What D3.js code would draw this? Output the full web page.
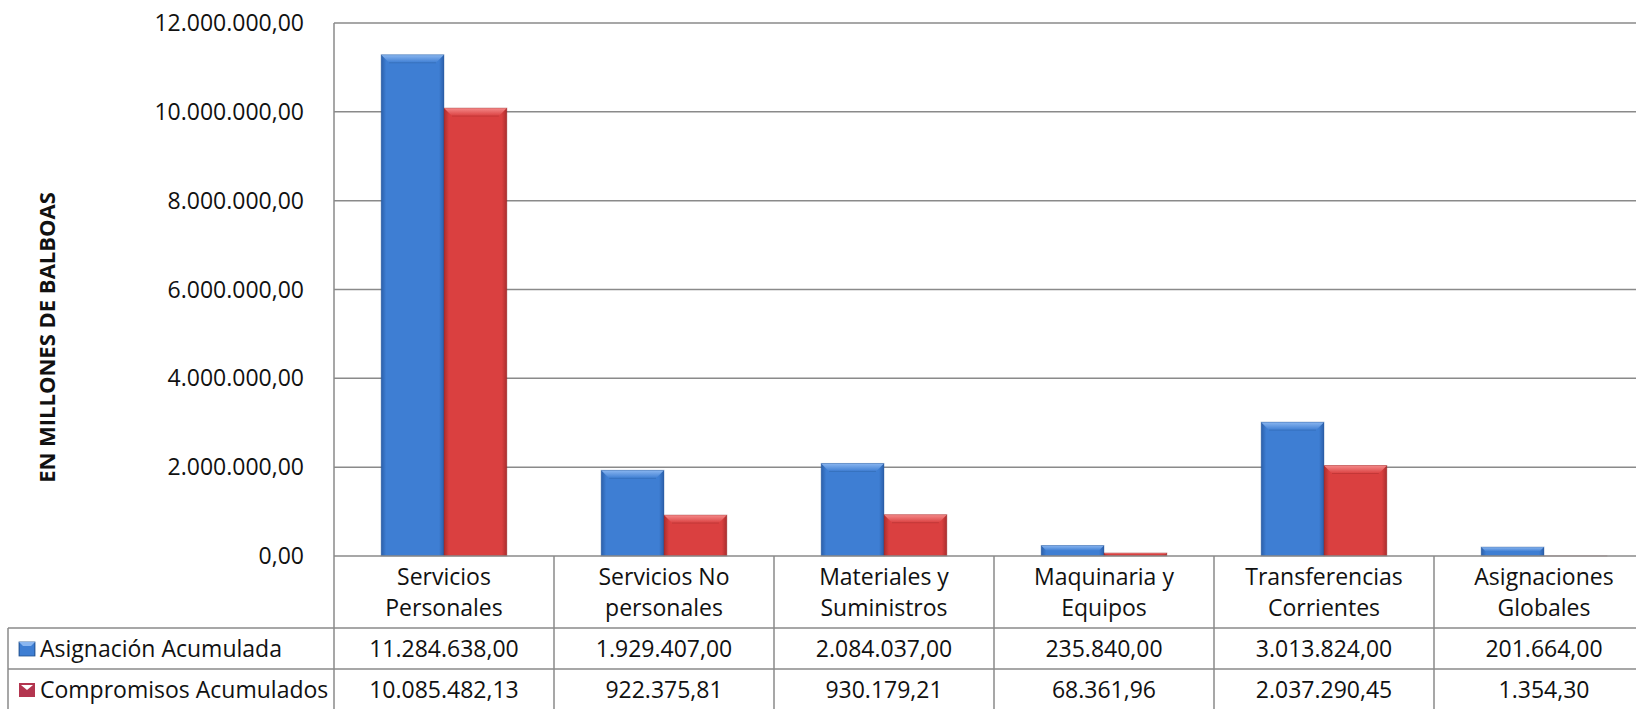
<!DOCTYPE html>
<html>
<head>
<meta charset="utf-8">
<script src="https://cdn.jsdelivr.net/npm/d3@7"></script>
<style>
  html, body { margin: 0; padding: 0; background: #fff; }
  svg { display: block; font-family: "Open Sans", sans-serif; }
</style>
</head>
<body>
<svg id="chart" width="1636" height="709"></svg>
<script>
const categories = [
  ["Servicios", "Personales"],
  ["Servicios No", "personales"],
  ["Materiales y", "Suministros"],
  ["Maquinaria y", "Equipos"],
  ["Transferencias", "Corrientes"],
  ["Asignaciones", "Globales"]
];
const seriesNames = ["Asignación Acumulada", "Compromisos Acumulados"];
const asignacion = [11284638.00, 1929407.00, 2084037.00, 235840.00, 3013824.00, 201664.00];
const compromisos = [10085482.13, 922375.81, 930179.21, 68361.96, 2037290.45, 1354.30];
const yTicks = [0, 2000000, 4000000, 6000000, 8000000, 10000000, 12000000];

const svg = d3.select("#chart");
width = +svg.attr("width");
height = +svg.attr("height");

// the table runs a bit past the right edge of the picture
const plotLeft = 334, plotRight = 1654, plotTop = 23, plotBottom = 556;
const tableLeft = 8, row1 = 628, row2 = 669;

const locale = d3.formatLocale({decimal: ",", thousands: ".", grouping: [3], currency: ["", ""]});
const fmt = locale.format(",.2f");

const x = d3.scaleBand().domain(d3.range(categories.length)).range([plotLeft, plotRight]);
const x1 = d3.scaleBand().domain([0, 1]).range([0, x.bandwidth()]).paddingOuter(0.75);
const y = d3.scaleLinear().domain([0, 12000000]).range([plotBottom, plotTop]);

const palette = [
  {main: "#3e7ed3", edge: "#2b5fa9", top: "#8ab6f0", dark: "#24548f", key: "#2f6db8"},
  {main: "#da4040", edge: "#a92d2d", top: "#f58a8a", dark: "#8f2424", key: "#b3354f"}
];

const defs = svg.append("defs");
palette.forEach((c, i) => {
  const g = defs.append("linearGradient").attr("id", "grad" + i)
    .attr("x1", 0).attr("x2", 1).attr("y1", 0).attr("y2", 0);
  g.append("stop").attr("offset", "0%").attr("stop-color", c.edge);
  g.append("stop").attr("offset", "8%").attr("stop-color", c.main);
  g.append("stop").attr("offset", "92%").attr("stop-color", c.main);
  g.append("stop").attr("offset", "100%").attr("stop-color", c.edge);
  const t = defs.append("linearGradient").attr("id", "top" + i)
    .attr("x1", 0).attr("x2", 0).attr("y1", 0).attr("y2", 1);
  t.append("stop").attr("offset", "0%").attr("stop-color", c.top);
  t.append("stop").attr("offset", "100%").attr("stop-color", c.main);
});

// gridlines
svg.append("g").selectAll("line").data(yTicks.slice(1)).join("line")
  .attr("x1", plotLeft).attr("x2", width)
  .attr("y1", d => y(d)).attr("y2", d => y(d))
  .attr("stroke", "#8a8a8a").attr("stroke-width", 1.5);

// tick labels
svg.append("g").selectAll("text").data(yTicks).join("text")
  .attr("x", 304).attr("y", d => y(d)).attr("dy", "0.35em")
  .attr("text-anchor", "end").attr("font-size", 23).attr("fill", "#111")
  .text(d => fmt(d));

// y title
svg.append("text")
  .attr("transform", `translate(47,${(192 + 483) / 2}) rotate(-90)`)
  .attr("text-anchor", "middle").attr("dy", "0.35em")
  .attr("font-size", 22).attr("font-weight", "bold").attr("fill", "#111")
  .text("EN MILLONES DE BALBOAS");

// bars
const bars = [];
categories.forEach((c, i) => {
  [asignacion[i], compromisos[i]].forEach((v, s) => bars.push({i, s, v}));
});

const bevel = 8;
const barG = svg.append("g").selectAll("g").data(bars).join("g");
barG.append("rect")
  .attr("x", d => x(d.i) + x1(d.s))
  .attr("y", d => y(d.v))
  .attr("width", x1.bandwidth())
  .attr("height", d => y(0) - y(d.v))
  .attr("fill", d => `url(#grad${d.s})`);
barG.append("path")
  .attr("d", d => {
    const x0 = x(d.i) + x1(d.s), w = x1.bandwidth(), t = y(d.v);
    const b = Math.min(bevel, (y(0) - t) / 2);
    return `M${x0},${t}L${x0 + w},${t}L${x0 + w - b},${t + b}L${x0 + b},${t + b}Z`;
  })
  .attr("fill", d => `url(#top${d.s})`);
barG.filter(d => y(0) - y(d.v) > 2 * bevel).append("line")
  .attr("x1", d => x(d.i) + x1(d.s) + bevel)
  .attr("x2", d => x(d.i) + x1(d.s) + x1.bandwidth() - bevel)
  .attr("y1", d => y(d.v) + bevel).attr("y2", d => y(d.v) + bevel)
  .attr("stroke", d => palette[d.s].dark).attr("stroke-opacity", 0.3);
barG.append("rect")
  .attr("x", d => x(d.i) + x1(d.s))
  .attr("y", d => y(d.v))
  .attr("width", x1.bandwidth())
  .attr("height", d => Math.max(0, y(0) - y(d.v)))
  .attr("fill", "none")
  .attr("stroke", d => palette[d.s].dark).attr("stroke-opacity", 0.35).attr("stroke-width", 1);

// table lines
const tbl = svg.append("g").attr("stroke", "#8a8a8a").attr("stroke-width", 1.5);
tbl.append("line").attr("x1", plotLeft).attr("x2", plotLeft).attr("y1", plotTop).attr("y2", height);
tbl.append("line").attr("x1", plotLeft).attr("x2", width).attr("y1", plotBottom).attr("y2", plotBottom);
tbl.append("line").attr("x1", tableLeft).attr("x2", width).attr("y1", row1).attr("y2", row1);
tbl.append("line").attr("x1", tableLeft).attr("x2", width).attr("y1", row2).attr("y2", row2);
tbl.append("line").attr("x1", tableLeft).attr("x2", tableLeft).attr("y1", row1).attr("y2", height);
tbl.selectAll(".v").data(d3.range(1, categories.length)).join("line")
  .attr("x1", d => x(d)).attr("x2", d => x(d))
  .attr("y1", plotBottom).attr("y2", height);

// category labels
const catG = svg.append("g").selectAll("text").data(categories).join("text")
  .attr("text-anchor", "middle").attr("font-size", 23).attr("fill", "#111");
catG.selectAll("tspan").data((d, i) => d.map(t => ({t, i}))).join("tspan")
  .attr("x", d => x(d.i) + x.bandwidth() / 2)
  .attr("y", (d, j) => [577, 608][j]).attr("dy", "0.35em")
  .text(d => d.t);

// value rows with legend keys
const rowsY = [649, 690];
[asignacion, compromisos].forEach((vals, s) => {
  svg.append("g").selectAll("text").data(vals).join("text")
    .attr("x", (d, i) => x(i) + x.bandwidth() / 2)
    .attr("y", rowsY[s]).attr("dy", "0.35em")
    .attr("text-anchor", "middle").attr("font-size", 23).attr("fill", "#111")
    .text(d => fmt(d));
  const ky = rowsY[s] - 7;
  const key = svg.append("g");
  if (s === 0) {
    key.append("rect").attr("x", 19).attr("y", ky).attr("width", 16).attr("height", 14)
      .attr("fill", `url(#grad${s})`).attr("stroke", palette[s].dark).attr("stroke-width", 0.8);
    key.append("path")
      .attr("d", `M19,${ky}L35,${ky}L31,${ky + 4}L23,${ky + 4}Z`)
      .attr("fill", palette[s].top);
  } else {
    key.append("rect").attr("x", 19).attr("y", ky).attr("width", 16).attr("height", 14)
      .attr("fill", palette[s].key);
    key.append("path")
      .attr("d", `M21,${ky + 2}L33,${ky + 2}L27,${ky + 7}Z`)
      .attr("fill", "#fff");
  }
  svg.append("text").attr("x", 40).attr("y", rowsY[s]).attr("dy", "0.35em")
    .attr("font-size", 23).attr("fill", "#111").text(seriesNames[s]);
});
</script>
</body>
</html>
